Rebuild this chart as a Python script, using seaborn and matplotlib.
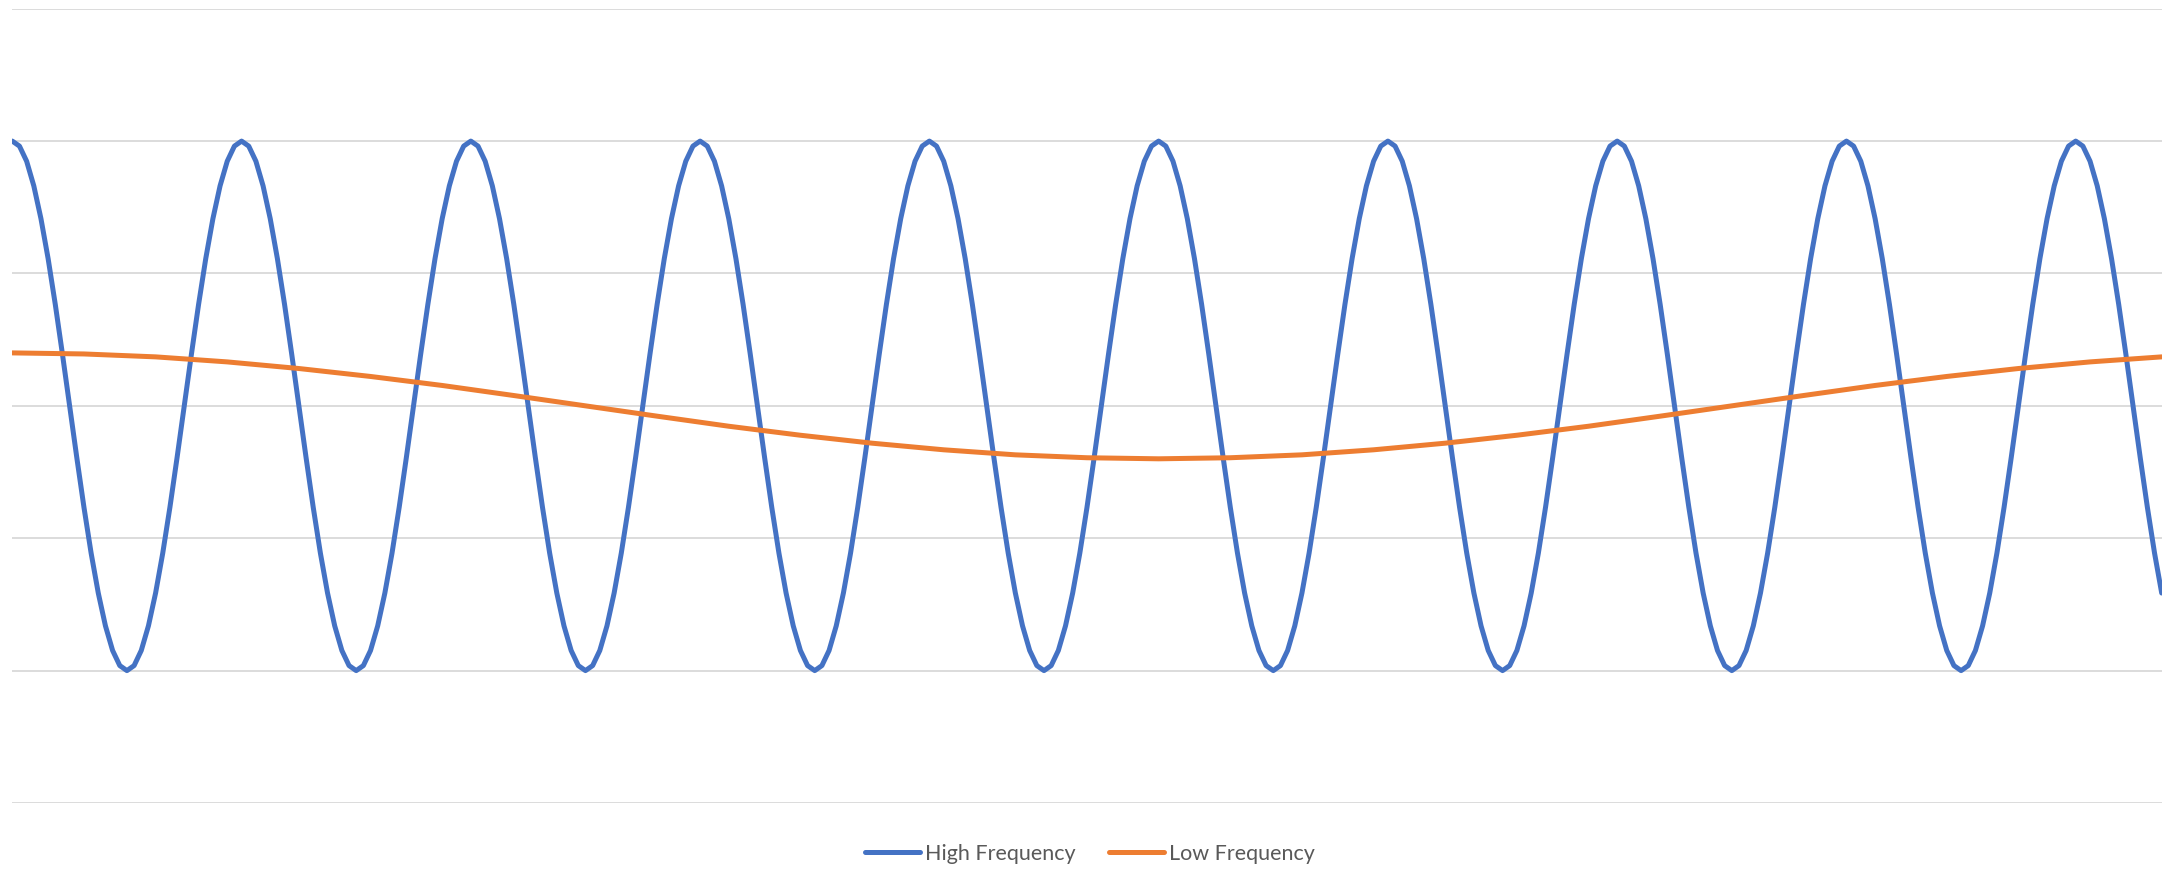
import matplotlib
matplotlib.use("Agg")
import matplotlib.pyplot as plt
import seaborn as sns
import pandas as pd

# Sample index of each reading
sample_high = list(range(0, 301))
sample_low = list(range(0, 301, 10))

# High-frequency signal readings (one per sample)
high_freq = [
    1.000, 0.981, 0.924, 0.831, 0.707, 0.556, 0.383, 0.195, 0.000, -0.195, -0.383, -0.556, -0.707, -0.831, -0.924, -0.981,
    -1.000, -0.981, -0.924, -0.831, -0.707, -0.556, -0.383, -0.195, 0.000, 0.195, 0.383, 0.556, 0.707, 0.831, 0.924, 0.981,
    1.000, 0.981, 0.924, 0.831, 0.707, 0.556, 0.383, 0.195, 0.000, -0.195, -0.383, -0.556, -0.707, -0.831, -0.924, -0.981,
    -1.000, -0.981, -0.924, -0.831, -0.707, -0.556, -0.383, -0.195, 0.000, 0.195, 0.383, 0.556, 0.707, 0.831, 0.924, 0.981,
    1.000, 0.981, 0.924, 0.831, 0.707, 0.556, 0.383, 0.195, 0.000, -0.195, -0.383, -0.556, -0.707, -0.831, -0.924, -0.981,
    -1.000, -0.981, -0.924, -0.831, -0.707, -0.556, -0.383, -0.195, 0.000, 0.195, 0.383, 0.556, 0.707, 0.831, 0.924, 0.981,
    1.000, 0.981, 0.924, 0.831, 0.707, 0.556, 0.383, 0.195, 0.000, -0.195, -0.383, -0.556, -0.707, -0.831, -0.924, -0.981,
    -1.000, -0.981, -0.924, -0.831, -0.707, -0.556, -0.383, -0.195, 0.000, 0.195, 0.383, 0.556, 0.707, 0.831, 0.924, 0.981,
    1.000, 0.981, 0.924, 0.831, 0.707, 0.556, 0.383, 0.195, 0.000, -0.195, -0.383, -0.556, -0.707, -0.831, -0.924, -0.981,
    -1.000, -0.981, -0.924, -0.831, -0.707, -0.556, -0.383, -0.195, 0.000, 0.195, 0.383, 0.556, 0.707, 0.831, 0.924, 0.981,
    1.000, 0.981, 0.924, 0.831, 0.707, 0.556, 0.383, 0.195, 0.000, -0.195, -0.383, -0.556, -0.707, -0.831, -0.924, -0.981,
    -1.000, -0.981, -0.924, -0.831, -0.707, -0.556, -0.383, -0.195, 0.000, 0.195, 0.383, 0.556, 0.707, 0.831, 0.924, 0.981,
    1.000, 0.981, 0.924, 0.831, 0.707, 0.556, 0.383, 0.195, 0.000, -0.195, -0.383, -0.556, -0.707, -0.831, -0.924, -0.981,
    -1.000, -0.981, -0.924, -0.831, -0.707, -0.556, -0.383, -0.195, 0.000, 0.195, 0.383, 0.556, 0.707, 0.831, 0.924, 0.981,
    1.000, 0.981, 0.924, 0.831, 0.707, 0.556, 0.383, 0.195, 0.000, -0.195, -0.383, -0.556, -0.707, -0.831, -0.924, -0.981,
    -1.000, -0.981, -0.924, -0.831, -0.707, -0.556, -0.383, -0.195, 0.000, 0.195, 0.383, 0.556, 0.707, 0.831, 0.924, 0.981,
    1.000, 0.981, 0.924, 0.831, 0.707, 0.556, 0.383, 0.195, 0.000, -0.195, -0.383, -0.556, -0.707, -0.831, -0.924, -0.981,
    -1.000, -0.981, -0.924, -0.831, -0.707, -0.556, -0.383, -0.195, 0.000, 0.195, 0.383, 0.556, 0.707, 0.831, 0.924, 0.981,
    1.000, 0.981, 0.924, 0.831, 0.707, 0.556, 0.383, 0.195, 0.000, -0.195, -0.383, -0.556, -0.707,
]

# Low-frequency signal readings (every tenth sample)
low_freq = [
    0.200, 0.196, 0.185, 0.166, 0.141, 0.111, 0.077, 0.039, 0.000, -0.039, -0.077, -0.111, -0.141, -0.166, -0.185, -0.196,
    -0.200, -0.196, -0.185, -0.166, -0.141, -0.111, -0.077, -0.039, 0.000, 0.039, 0.077, 0.111, 0.141, 0.166, 0.185,
]

series_names = ["High Frequency", "Low Frequency"]
series_colors = ["#4472C4", "#ED7D31"]
y_ticks = [-1.5, -1.0, -0.5, 0.0, 0.5, 1.0, 1.5]

df_high = pd.DataFrame({"sample": sample_high, "value": high_freq})
df_low = pd.DataFrame({"sample": sample_low, "value": low_freq})

sns.set_style("white")
plt.rcParams["font.family"] = ["Lato", "DejaVu Sans"]

W, H = 2173, 869
fig = plt.figure(figsize=(W / 100, H / 100), dpi=100)
ax = fig.add_axes([12.3 / W, 1 - 803 / H, (2161.7 - 12.3) / W, (803 - 8.7) / H])

sns.lineplot(data=df_high, x="sample", y="value", ax=ax, color=series_colors[0],
             linewidth=3.6, label=series_names[0], solid_capstyle="round",
             solid_joinstyle="round")
sns.lineplot(data=df_low, x="sample", y="value", ax=ax, color=series_colors[1],
             linewidth=3.6, label=series_names[1], solid_capstyle="round",
             solid_joinstyle="round")

ax.set_xlim(0, 300)
ax.set_ylim(-1.5, 1.5)
ax.set_yticks(y_ticks)
ax.set_xticks([])
ax.tick_params(left=False, bottom=False, labelleft=False, labelbottom=False)
ax.yaxis.grid(True, color="#D9D9D9", linewidth=1.3)
ax.set_axisbelow(True)
ax.set_xlabel("")
ax.set_ylabel("")
for s in ax.spines.values():
    s.set_visible(False)

ax.get_legend().remove()
handles, labels = ax.get_legend_handles_labels()
leg = fig.legend(handles, labels, loc="center left",
                 bbox_to_anchor=(865 / W, 1 - 854 / H), ncol=2, frameon=False,
                 fontsize=15.5, handlelength=2.55, handletextpad=0.23,
                 columnspacing=1.55, borderpad=0, borderaxespad=0)
for t in leg.get_texts():
    t.set_color("#595959")
for l in leg.get_lines():
    l.set_linewidth(3.6)
    l.set_solid_capstyle("round")

fig.savefig("out.png", dpi=100, facecolor="white")
